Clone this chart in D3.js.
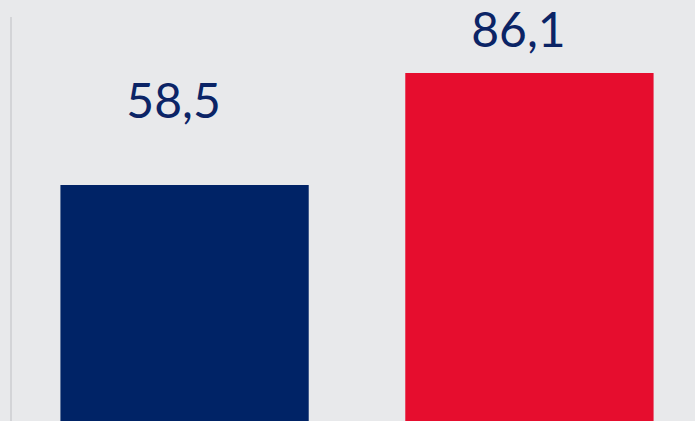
<!DOCTYPE html>
<html>
<head>
<meta charset="utf-8">
<script src="https://cdn.jsdelivr.net/npm/d3@7"></script>
<style>
  html, body { margin: 0; padding: 0; background: #e8e9eb; }
  svg { display: block; }
</style>
</head>
<body>
<svg id="chart" width="695" height="421"></svg>
<script>
// data
const categories = ['A', 'B'];
const values = [58.5, 86.1];
const labels = ['58,5', '86,1'];
const colors = ['#002366', '#e60d2e'];

const width = 695, height = 421;
const svg = d3.select('#chart');

svg.append('rect')
    .attr('width', width)
    .attr('height', height)
    .attr('fill', '#e8e9eb');

// axis line on the left
svg.append('line')
    .attr('x1', 11).attr('x2', 11)
    .attr('y1', 17).attr('y2', height)
    .attr('stroke', '#d3d4d7')
    .attr('stroke-width', 2);

const x = d3.scaleBand()
    .domain(categories)
    .range([-112, 826])
    .paddingInner(0.28)
    .paddingOuter(0.5);

const y = d3.scaleLinear()
    .domain([0, 100])
    .range([422.4, 16.6]);

svg.selectAll('rect.bar')
    .data(values)
    .join('rect')
    .attr('class', 'bar')
    .attr('x', (d, i) => x(categories[i]))
    .attr('width', x.bandwidth())
    .attr('y', d => y(d))
    .attr('height', d => y(0) - y(d))
    .attr('fill', (d, i) => colors[i]);

// label offsets above bar top (layout)
const labelGap = [67, 26];

svg.selectAll('text.lbl')
    .data(values)
    .join('text')
    .attr('class', 'lbl')
    .attr('x', (d, i) => x(categories[i]) + x.bandwidth() / 2 - 11)
    .attr('y', (d, i) => y(d) - labelGap[i])
    .attr('text-anchor', 'middle')
    .attr('font-family', 'Lato, "Open Sans", sans-serif')
    .attr('font-size', 48)
    .attr('fill', '#0b2466')
    .text((d, i) => labels[i]);
</script>
</body>
</html>
